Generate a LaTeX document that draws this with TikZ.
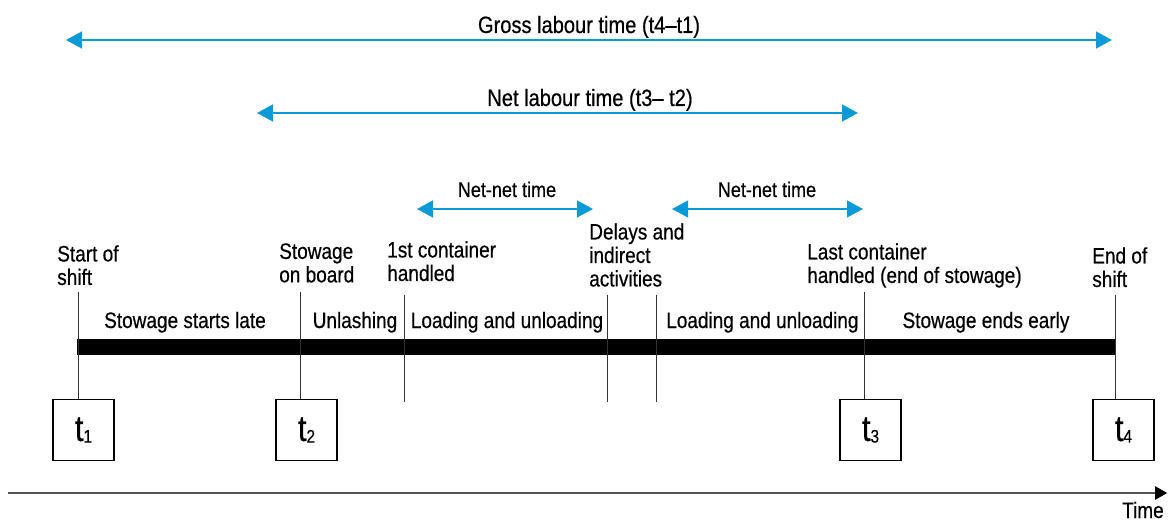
\documentclass[tikz,border=0pt]{standalone}
\usepackage{fontspec}
\setmainfont{Liberation Sans}[FakeStretch=0.85,FakeBold=0.5]
\usetikzlibrary{arrows.meta}
\definecolor{spanblue}{HTML}{0A9AD8}
\definecolor{tickgray}{HTML}{333333}
\definecolor{axisgray}{HTML}{555555}
\newcommand\evfont{\fontsize{15.9}{16.7}\selectfont}
\newcommand\spanfont{\fontsize{16.8}{19}\selectfont}
\newcommand\nnfont{\fontsize{15.1}{17}\selectfont}
\newcommand\tmark[1]{{\fontsize{26}{26}\selectfont t}\raisebox{-1.2pt}{\fontsize{13}{13}\selectfont #1}}

\begin{document}
\begin{tikzpicture}[x=1cm,y=1cm,
      >={Triangle[length=0.4cm,width=0.42cm]},
      span/.style={<->,line width=1.6pt,draw=spanblue},
      spanlabel/.style={anchor=base,inner sep=0pt,font=\spanfont},
      nnlabel/.style={anchor=base,inner sep=0pt,font=\nnfont},
      event/.style={anchor=north west,align=left,inner sep=0pt,font=\evfont},
      phase/.style={anchor=base,inner sep=0pt,font=\evfont},
      tick/.style={draw=tickgray,line width=0.7pt},
      bar/.style={draw=black,line width=0.4cm},
      tbox/.style={draw=black,line width=1pt,fill=white,minimum size=1.53cm,inner sep=0pt},
      axis/.style={-{Triangle[length=0.3cm,width=0.33cm,color=black]},line width=1.1pt,draw=axisgray}]
    \useasboundingbox (0,0) rectangle (29.2,-13.225);
    % spans above the time line
    \coordinate (g1) at (1.65,-1.0);
    \coordinate (g2) at (27.8,-1.0);
    \draw[span] (g1) -- (g2);
    \node[spanlabel] (gross) at (14.725,-0.825) {Gross labour time (t4--t1)};
    \coordinate (n1) at (6.425,-2.825);
    \coordinate (n2) at (21.45,-2.825);
    \draw[span] (n1) -- (n2);
    \node[spanlabel] (net) at (14.75,-2.65) {Net labour time (t3-- t2)};
    \coordinate (a1) at (10.425,-5.225);
    \coordinate (a2) at (14.825,-5.225);
    \draw[span] (a1) -- (a2);
    \node[nnlabel] (netneta) at (12.675,-4.925) {Net-net time};
    \coordinate (c1) at (16.8,-5.225);
    \coordinate (c2) at (21.575,-5.225);
    \draw[span,line width=.9pt] (c1) -- (c2);
    \node[nnlabel] (netnetb) at (19.175,-4.925) {Net-net time};

    % events
    \node[event] (start) at (1.425,-6.125) {Start of\\shift};
    \node[event] (board) at (6.975,-6.075) {Stowage\\on board};
    \node[event] (first) at (9.675,-6.025) {1st container\\handled};
    \node[event] (delay) at (14.725,-5.575) {Delays and\\indirect\\activities};
    \node[event] (last) at (20.175,-6.075) {Last container\\handled (end of stowage)};
    \node[event] (finish) at (27.3,-6.175) {End of\\shift};

    % the stowage bar
    \coordinate (barL) at (1.925,-8.675);
    \coordinate (barR) at (27.9,-8.675);
    \draw[bar] (barL) -- (barR);
    \node[phase] (late) at (4.625,-8.2) {Stowage starts late};
    \node[phase] (unlash) at (8.875,-8.2) {Unlashing};
    \node[phase] (loada) at (12.675,-8.2) {Loading and unloading};
    \node[phase] (loadb) at (19.06,-8.2) {Loading and unloading};
    \node[phase] (early) at (24.65,-8.2) {Stowage ends early};

    % ticks and time boxes
    \node[tbox] (b1) at (2.0875,-10.75) {\tmark{1}};
    \node[tbox] (b2) at (7.6625,-10.75) {\tmark{2}};
    \node[tbox] (b3) at (21.7625,-10.75) {\tmark{3}};
    \node[tbox] (b4) at (28.0875,-10.75) {\tmark{4}};
    \coordinate (s1) at (1.95,-7.3);
    \coordinate (s2) at (7.5,-7.3);
    \coordinate (s3) at (21.6,-7.3);
    \coordinate (s4) at (27.875,-7.375);
    \draw[tick] (s1) -- (s1 |- b1.north);
    \draw[tick] (s2) -- (s2 |- b2.north);
    \draw[tick] (s3) -- (s3 |- b3.north);
    \draw[tick] (s4) -- (s4 |- b4.north);
    \coordinate (f1) at (10.1,-7.375);
    \coordinate (f2) at (10.1,-10.05);
    \coordinate (d1) at (15.175,-7.375);
    \coordinate (d2) at (15.175,-10.05);
    \coordinate (e1) at (16.4,-7.375);
    \coordinate (e2) at (16.4,-10.05);
    \draw[tick] (f1) -- (f2);
    \draw[tick] (d1) -- (d2);
    \draw[tick] (e1) -- (e2);

    % time axis
    \coordinate (t0) at (0.2,-12.325);
    \coordinate (tend) at (29.18,-12.325);
    \draw[axis] (t0) -- (tend);
    \node[anchor=base east,inner sep=0pt,font=\evfont] (time) at (29.1,-12.95) {Time};
\end{tikzpicture}
\end{document}
